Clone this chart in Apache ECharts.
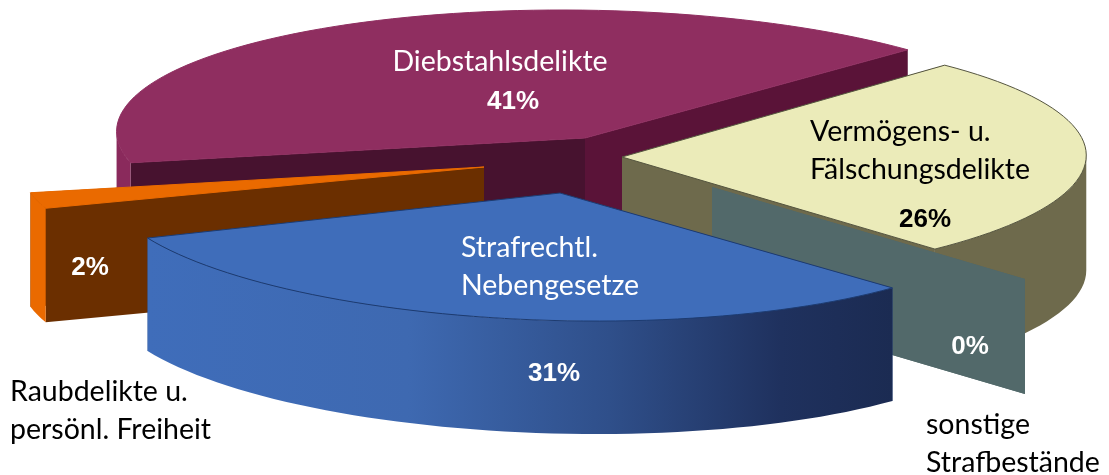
<!DOCTYPE html>
<html>
<head>
<meta charset="utf-8">
<style>
  html, body { margin: 0; padding: 0; background: #fff; }
  #chart { width: 1109px; height: 475px; }
</style>
<script src="https://cdn.jsdelivr.net/npm/echarts@6/dist/echarts.min.js"></script>
</head>
<body>
<div id="chart"></div>
<script>
// clockwise order, the first slice starts at startAngle
const categories = ['Vermögens- u.\nFälschungsdelikte', 'sonstige\nStrafbestände', 'Strafrechtl.\nNebengesetze', 'Raubdelikte u.\npersönl. Freiheit', 'Diebstahlsdelikte']
const shares = [26, 0, 31, 2, 41]

const startAngle = 46
const paintOrder = [4, 0, 1, 3, 2]
const nameFont = 'Lato'
const shareFont = 'Liberation Sans'

// top face of each exploded slice: centre, radii, skew of the tilted view, height
const geometry = [
  { cx: 622, cy: 157, rx: 464, ry: 126, kx: 16, ky: -6, depth: 115 },
  { cx: 712, cy: 187, rx: 464, ry: 126, kx: 16, ky: -6, depth: 115 },
  { cx: 560, cy: 193, rx: 453, ry: 128, kx: 51, ky: -4, depth: 113 },
  { cx: 484, cy: 167, rx: 463, ry: 128, kx: 0, ky: 0, depth: 114 },
  { cx: 585, cy: 138, rx: 468, ry: 128, kx: 20, ky: 1, depth: 90 }
]

const blueSide = new echarts.graphic.LinearGradient(0, 0, 1, 0, [
  { offset: 0, color: '#3f6dba' },
  { offset: 0.35, color: '#3e69b1' },
  { offset: 0.62, color: '#2f4f8a' },
  { offset: 0.85, color: '#1f315e' },
  { offset: 1, color: '#1b2b52' }
])

const colors = [
  { top: '#ebebb9', line: '#55553f', side: '#6e6a4c', startFace: '#6e6a4c', endFace: '#6e6a4c' },
  { top: '#52696a', line: '#52696a', side: '#52696a', startFace: '#52696a', endFace: '#52696a' },
  { top: '#3f6dba', line: '#1d3b70', side: blueSide, startFace: '#2a4a85', endFace: '#2a4a85' },
  { top: '#ea6a00', line: '#ea6a00', side: '#ea6a00', startFace: '#6b2f00', endFace: '#6b2f00' },
  { top: '#8f2e60', line: '#8f2e60', side: '#8a2a5c', startFace: '#47122f', endFace: '#5a1338' }
]

const nameAnchors = [
  { x: 810, y: 151, align: 'left', fill: '#000' },
  { x: 926, y: 444, align: 'left', fill: '#000' },
  { x: 461, y: 267, align: 'left', fill: '#fff' },
  { x: 10, y: 411, align: 'left', fill: '#000' },
  { x: 500, y: 62, align: 'center', fill: '#fff' }
]
const shareAnchors = [
  { x: 925, y: 220, fill: '#000' },
  { x: 970, y: 347, fill: '#fff' },
  { x: 554, y: 374, fill: '#fff' },
  { x: 90, y: 268, fill: '#fff' },
  { x: 513, y: 102, fill: '#fff' }
]

const total = shares.reduce((a, b) => a + b, 0)
const ranges = []
let running = startAngle
shares.forEach(v => {
  const sweep = v / total * 360
  ranges.push([running, running + sweep])
  running += sweep
})

function rim (g, deg, drop) {
  const t = deg * Math.PI / 180
  return [
    g.cx + g.rx * Math.sin(t) - g.kx * Math.cos(t),
    g.cy - g.ry * Math.cos(t) + g.ky * Math.sin(t) + drop
  ]
}

function arc (g, from, to, drop) {
  const pts = []
  const steps = Math.max(2, Math.ceil(Math.abs(to - from) / 2))
  for (let i = 0; i <= steps; i++) {
    pts.push(rim(g, from + (to - from) * i / steps, drop))
  }
  return pts
}

function face (g, deg) {
  const p = rim(g, deg, 0)
  return [[g.cx, g.cy], p, [p[0], p[1] + g.depth], [g.cx, g.cy + g.depth]]
}

function renderSlice (params, api) {
  const idx = paintOrder[params.dataIndex]
  const layer = params.dataIndex * 5
  const g = geometry[idx]
  const c = colors[idx]
  const [from, to] = ranges[idx]
  const children = []
  const poly = (points, fill, z2, stroke) => children.push({
    type: 'polygon',
    z2: layer + z2,
    shape: { points: points },
    style: { fill: fill, stroke: stroke || null, lineWidth: stroke ? 1 : 0 }
  })

  poly(face(g, to), c.endFace, 0)
  poly(face(g, from), c.startFace, 1)

  if (to > from) {
    // only the front of the rim is seen
    const rightEdge = Math.atan2(g.rx, -g.kx) * 180 / Math.PI
    const a = Math.max(from, rightEdge)
    const b = Math.min(to, rightEdge + 180)
    if (b > a) {
      const top = arc(g, a, b, 0)
      const bottom = arc(g, a, b, g.depth).reverse()
      poly(top.concat(bottom), c.side, 2)
    }
    poly([[g.cx, g.cy]].concat(arc(g, from, to, 0)), c.top, 3, c.line)
  }

  const name = nameAnchors[idx]
  children.push({
    type: 'text',
    z2: 100,
    style: {
      text: categories[idx],
      x: name.x,
      y: name.y,
      align: name.align,
      verticalAlign: 'middle',
      fontFamily: nameFont,
      fontSize: 28.5,
      lineHeight: 38,
      fill: name.fill
    }
  })
  const share = shareAnchors[idx]
  children.push({
    type: 'text',
    z2: 100,
    style: {
      text: api.value(0) + '%',
      x: share.x,
      y: share.y,
      align: 'center',
      verticalAlign: 'middle',
      fontFamily: shareFont,
      fontWeight: 'bold',
      fontSize: 26,
      fill: share.fill
    }
  })
  return { type: 'group', children: children }
}

const myChart = echarts.init(document.getElementById('chart'), null, { renderer: 'canvas' })
myChart.setOption({
  animation: false,
  backgroundColor: '#fff',
  series: [{
    type: 'custom',
    coordinateSystem: 'none',
    silent: true,
    renderItem: renderSlice,
    data: paintOrder.map(i => [shares[i]])
  }]
})
</script>
</body>
</html>
